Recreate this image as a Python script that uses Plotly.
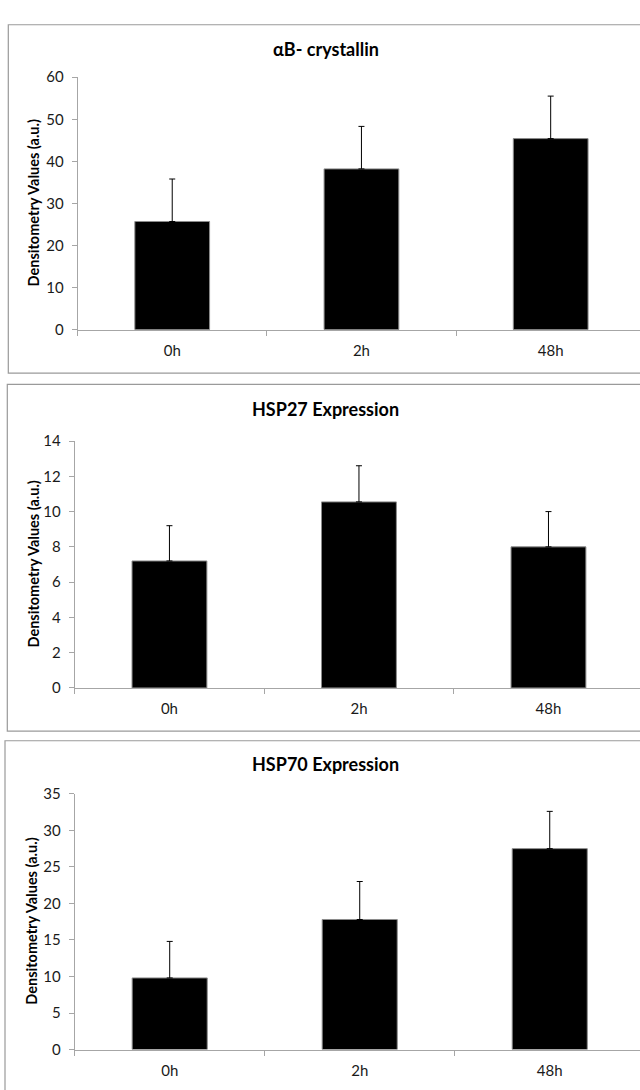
import plotly.graph_objects as go

# ---- data ----
categories = ["0h", "2h", "48h"]

cryab_title = "αB- crystallin"
cryab_mean = [25.7, 38.2, 45.4]
cryab_err = [10.1, 10.1, 10.1]

hsp27_title = "HSP27 Expression"
hsp27_mean = [7.2, 10.55, 8.0]
hsp27_err = [2.0, 2.05, 2.0]

hsp70_title = "HSP70 Expression"
hsp70_mean = [9.8, 17.8, 27.5]
hsp70_err = [5.0, 5.2, 5.1]

y_title = "Densitometry Values (a.u.)"

W, H = 640, 1090
FONT = "Lato"
AXC = "#a6a6a6"

def px_x(p):
    return p / W

def px_y(p):
    return 1 - p / H

panels = [
    dict(title=cryab_title, mean=cryab_mean, err=cryab_err, ymax=60, dtick=10,
         left=77.6, y0=325, ytop=68.3, xend=2.472, ty=40, ytx=33,
         box=(8.3, 15, 369.3)),
    dict(title=hsp27_title, mean=hsp27_mean, err=hsp27_err, ymax=14, dtick=2,
         left=74.7, y0=689.3, ytop=438.3, xend=2.483, ty=405.5, ytx=33,
         box=(7.3, 380.7, 733.3)),
    dict(title=hsp70_title, mean=hsp70_mean, err=hsp70_err, ymax=35, dtick=5,
         left=74.7, y0=1057, ytop=797, xend=2.475, ty=766.7, ytx=32,
         box=(5, 743, 1120)),
]

fig = go.Figure()
shapes = []
annotations = []

for i, p in enumerate(panels, start=1):
    xa = "x" if i == 1 else f"x{i}"
    ya = "y" if i == 1 else f"y{i}"
    fig.add_trace(go.Bar(
        x=categories, y=p["mean"], xaxis=xa, yaxis=ya,
        width=0.395,
        marker=dict(color="black", line=dict(color="#8c8c8c", width=1)),
        error_y=dict(type="data", symmetric=False, array=p["err"],
                     arrayminus=[0] * len(p["err"]),
                     color="black", thickness=1, width=3),
        hoverinfo="skip",
    ))
    xkey = "xaxis" if i == 1 else f"xaxis{i}"
    ykey = "yaxis" if i == 1 else f"yaxis{i}"
    fig.update_layout(**{
        xkey: dict(domain=[px_x(p["left"]), 1], anchor=ya, type="category",
                   range=[-0.5, p["xend"]], showline=True, linecolor=AXC,
                   linewidth=1, ticks="outside", tickson="boundaries",
                   ticklen=5, tickcolor=AXC, showgrid=False, zeroline=False,
                   tickfont=dict(family=FONT, size=15, color="#1a1a1a"),
                   ticklabelstandoff=7, fixedrange=True),
        ykey: dict(domain=[px_y(p["y0"]), px_y(p["ytop"])], anchor=xa,
                   range=[0, p["ymax"]], dtick=p["dtick"], showline=True,
                   linecolor=AXC, linewidth=1, ticks="outside", ticklen=5,
                   tickcolor=AXC, showgrid=False, zeroline=False,
                   tickfont=dict(family=FONT, size=15, color="#1a1a1a"),
                   ticklabelstandoff=5, fixedrange=True),
    })
    bl, bt, bb = p["box"]
    shapes.append(dict(type="rect", xref="paper", yref="paper",
                       x0=px_x(bl), x1=1.05, y0=px_y(bb), y1=px_y(bt),
                       line=dict(color="#9a9a9a", width=1.2), layer="below"))
    annotations.append(dict(text=f"<b>{p['title']}</b>", xref="paper", yref="paper",
                            x=px_x(325.5), y=px_y(p["ty"]), showarrow=False,
                            xanchor="center", yanchor="middle",
                            font=dict(family=FONT, size=18, color="black")))
    annotations.append(dict(text=f"<b>{y_title}</b>", xref="paper", yref="paper",
                            x=px_x(p["ytx"]), y=px_y((p["y0"] + p["ytop"]) / 2),
                            textangle=-90, showarrow=False,
                            xanchor="center", yanchor="middle",
                            font=dict(family=FONT, size=14.5, color="black")))

fig.update_layout(width=W, height=H, margin=dict(l=0, r=0, t=0, b=0),
                  paper_bgcolor="white", plot_bgcolor="white",
                  showlegend=False, shapes=shapes, annotations=annotations,
                  bargap=0.6)

fig.write_html("out.html", config={"displayModeBar": False},
               post_script="document.body.style.margin='0';document.body.style.overflow='hidden';")
